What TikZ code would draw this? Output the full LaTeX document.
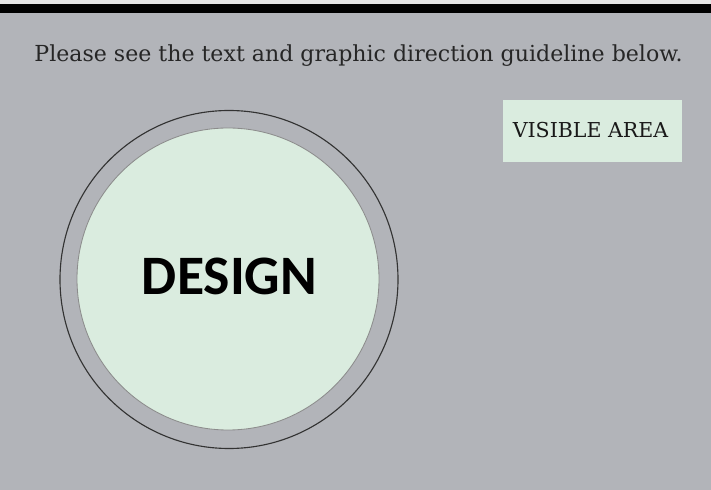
\documentclass[tikz,border=0pt]{standalone}
\usepackage{fontspec}
\setmainfont{DejaVu Serif}
\newfontfamily\designfont{Carlito}
\definecolor{guidegray}{RGB}{178,180,185}
\definecolor{visgreen}{RGB}{218,236,223}
\definecolor{topstrip}{RGB}{228,228,228}
\tikzset
{
  guidetext/.style={font=\fontsize{15.7}{17}\selectfont,text=black!85,inner sep=0pt},
  vistext/.style={font=\fontsize{14.6}{16}\selectfont,text=black!90,inner sep=0pt},
  visbox/.style={fill=visgreen,minimum width=4.45cm,minimum height=1.55cm,inner sep=0pt},
  outerring/.style={draw=black!80,line width=0.8pt},
  innerdisc/.style={fill=visgreen,draw=black!45,line width=0.6pt},
  designtext/.style={font=\designfont\bfseries\fontsize{39.6}{42}\selectfont,inner sep=0pt}
}
\begin{document}
\begin{tikzpicture}[x=0.025cm,y=-0.025cm]
            % rand
            \coordinate (NW) at (0,0);
            \coordinate (SE) at (711,490);
            \useasboundingbox (NW) rectangle (SE);
            \fill[guidegray] (NW) rectangle (SE);
            \fill[topstrip] (NW) rectangle (711,4);
            \fill[black] (0,4) rectangle (711,13);
            % koordinate
            \coordinate (Co) at (229,279.5);
            \coordinate (Ci) at (228,279);
            % napis zgoraj
            \node (guide) at (358.5,62) [guidetext,anchor=base] {Please see the text and graphic direction guideline below.};
            % vidno obmocje
            \node (visible) at (592.5,131) [visbox] {};
            \node (vislabel) at (590.5,138) [vistext,anchor=base] {VISIBLE AREA};
            % krog
            \draw[outerring] (Co) circle [radius=169];
            \draw[innerdisc] (Ci) circle [radius=151];
            \node (design) at (229.5,276.5) [designtext] {DESIGN};
\end{tikzpicture}
\end{document}
